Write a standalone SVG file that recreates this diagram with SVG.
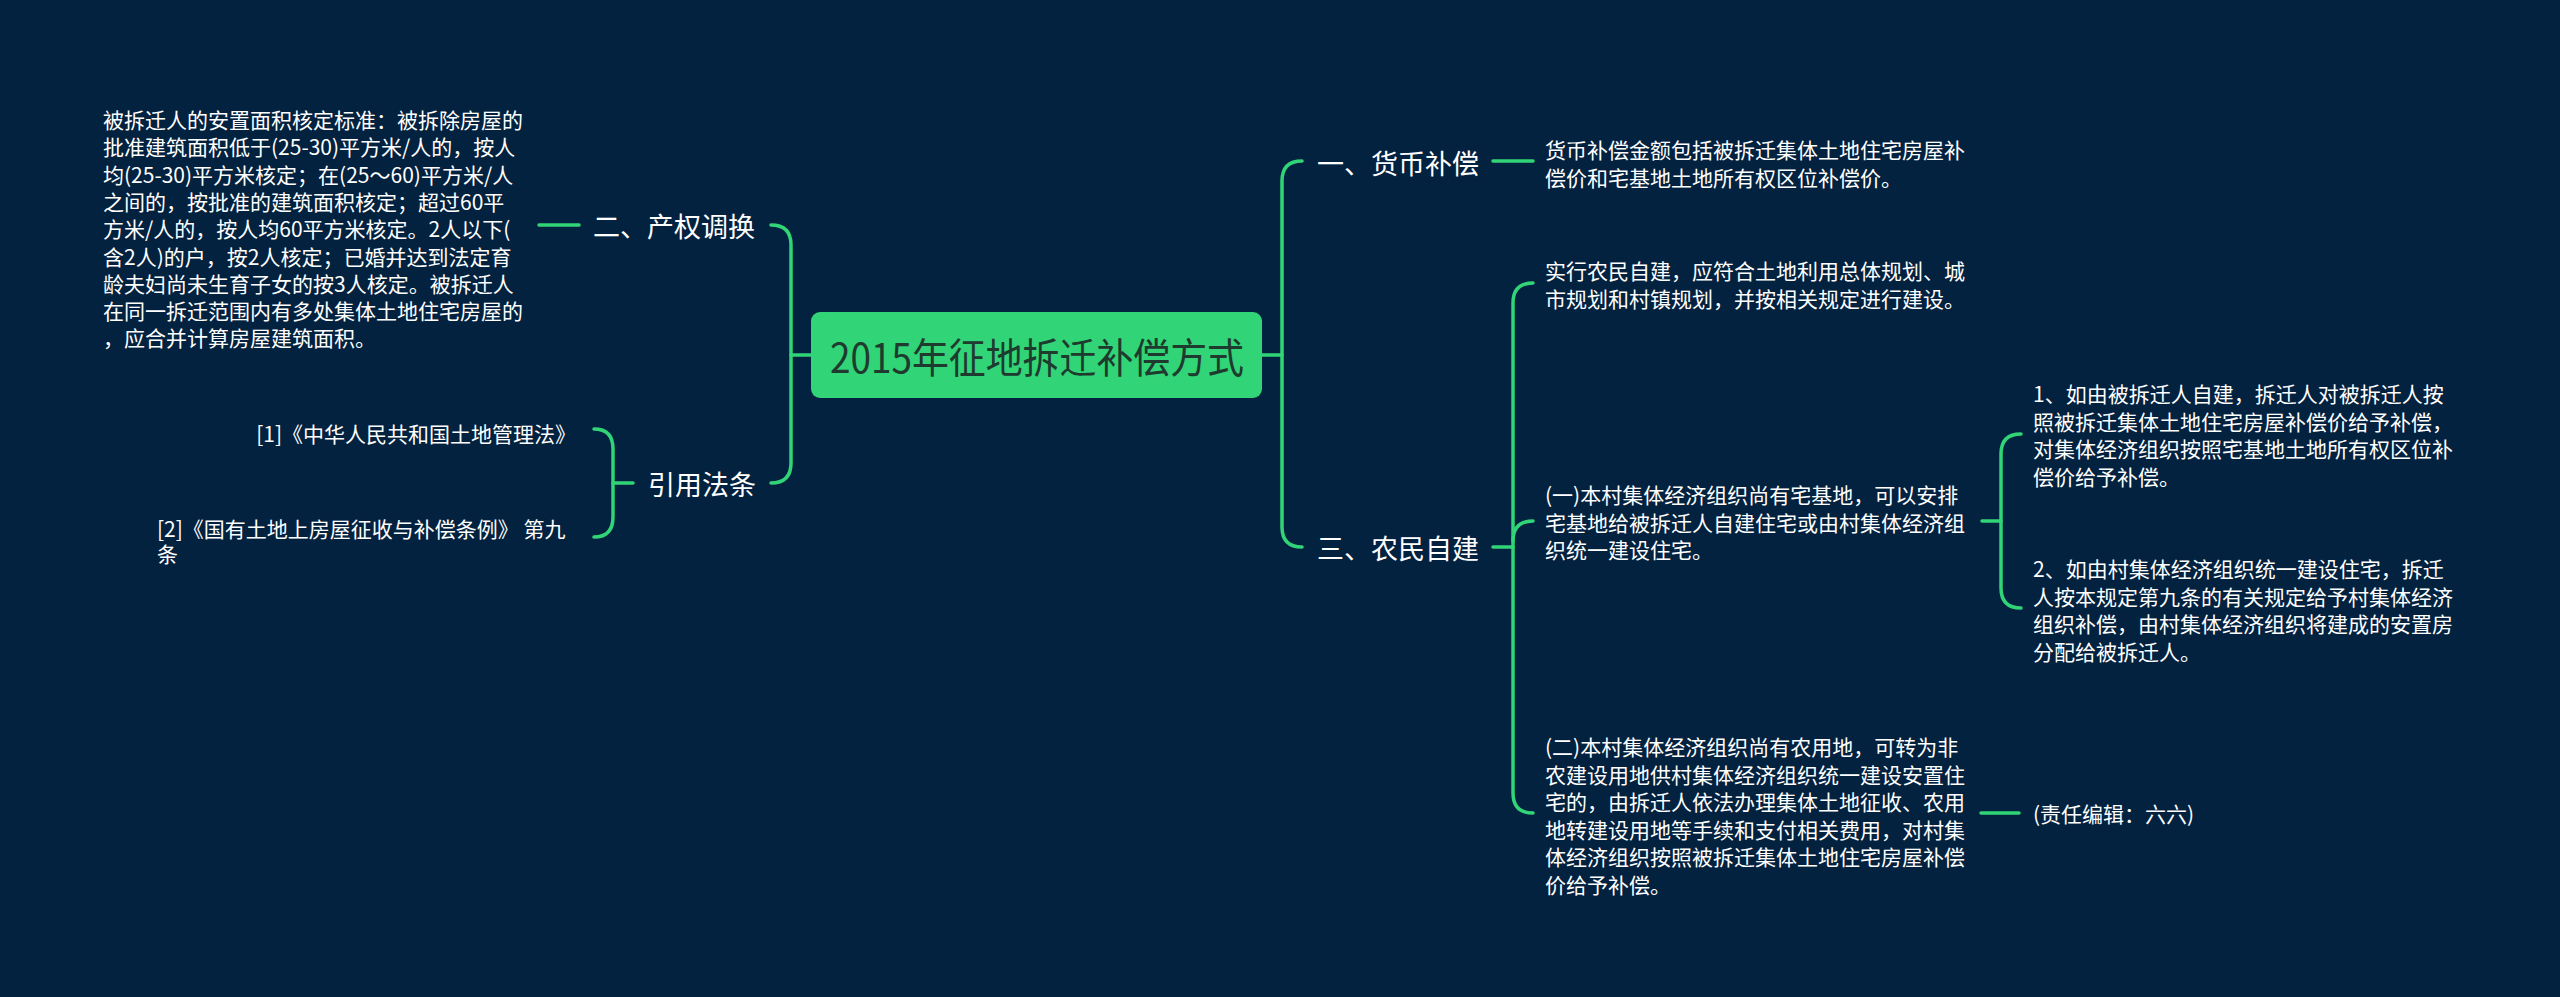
<svg xmlns="http://www.w3.org/2000/svg" width="2560" height="997" viewBox="0 0 2560 997">
<style>
.bg{fill:#03223f}
.ln{fill:none;stroke:#31d476;stroke-width:3.5;stroke-linecap:round}
.t{font-family:"Noto Sans CJK SC","Noto Sans",sans-serif;fill:#ffffff;dominant-baseline:central}
.s{font-size:21px}
.b{font-size:27px}
.title{font-family:"Noto Sans CJK SC","Noto Sans",sans-serif;font-size:41px;fill:#1f3a2e;dominant-baseline:central}
</style>
<rect class="bg" x="0" y="0" width="2560" height="997"/>
<g id="connectors">
  <path class="ln" d="M811,355 L791,355"/>
  <path class="ln" d="M771,225 Q791,225 791,245 L791,463 Q791,483 771,483"/>
  <path class="ln" d="M579,225 L539,225"/>
  <path class="ln" d="M633,483 L613,483"/>
  <path class="ln" d="M594,429 Q613,429 613,449 L613,517 Q613,537 594,537"/>
  <path class="ln" d="M1262,355 L1282,355"/>
  <path class="ln" d="M1302,161 Q1282,161 1282,181 L1282,527 Q1282,547 1302,547"/>
  <path class="ln" d="M1493,161 L1533,161"/>
  <path class="ln" d="M1493,547 L1513,547"/>
  <path class="ln" d="M1533,283 Q1513,283 1513,303 L1513,793 Q1513,813 1533,813"/>
  <path class="ln" d="M1513,541 Q1513,521 1533,521"/>
  <path class="ln" d="M1982,521 L2001,521"/>
  <path class="ln" d="M2021,434 Q2001,434 2001,454 L2001,588 Q2001,608 2021,608"/>
  <path class="ln" d="M1981,813 L2019,813"/>
</g>
<g id="root">
  <rect x="811" y="312" width="451" height="86" rx="9" fill="#31d476"/>
  <text class="title" x="830" y="355" textLength="414" lengthAdjust="spacingAndGlyphs">2015年征地拆迁补偿方式</text>
</g>
<g id="n-chanquan">
  <text class="t b" x="593" y="225">二、产权调换</text>
</g>
<g id="n-chanquan-detail">
  <text class="t s" x="103">
    <tspan x="103" y="119">被拆迁人的安置面积核定标准：被拆除房屋的</tspan>
    <tspan x="103" y="146.3">批准建筑面积低于(25-30)平方米/人的，按人</tspan>
    <tspan x="103" y="173.6">均(25-30)平方米核定；在(25～60)平方米/人</tspan>
    <tspan x="103" y="200.9">之间的，按批准的建筑面积核定；超过60平</tspan>
    <tspan x="103" y="228.2">方米/人的，按人均60平方米核定。2人以下(</tspan>
    <tspan x="103" y="255.5">含2人)的户，按2人核定；已婚并达到法定育</tspan>
    <tspan x="103" y="282.8">龄夫妇尚未生育子女的按3人核定。被拆迁人</tspan>
    <tspan x="103" y="310.1">在同一拆迁范围内有多处集体土地住宅房屋的</tspan>
    <tspan x="103" y="337.4">，应合并计算房屋建筑面积。</tspan>
  </text>
</g>
<g id="n-yinyong">
  <text class="t b" x="648" y="483">引用法条</text>
</g>
<g id="n-law1">
  <text class="t s" x="576" y="433" text-anchor="end">[1]《中华人民共和国土地管理法》</text>
</g>
<g id="n-law2">
  <text class="t s">
    <tspan x="157" y="528">[2]《国有土地上房屋征收与补偿条例》 第九</tspan>
    <tspan x="157" y="553">条</tspan>
  </text>
</g>
<g id="n-huobi">
  <text class="t b" x="1317" y="162">一、货币补偿</text>
</g>
<g id="n-huobi-detail">
  <text class="t s">
    <tspan x="1545" y="149">货币补偿金额包括被拆迁集体土地住宅房屋补</tspan>
    <tspan x="1545" y="176.5">偿价和宅基地土地所有权区位补偿价。</tspan>
  </text>
</g>
<g id="n-nongmin">
  <text class="t b" x="1317" y="547">三、农民自建</text>
</g>
<g id="n-shixing">
  <text class="t s">
    <tspan x="1545" y="270">实行农民自建，应符合土地利用总体规划、城</tspan>
    <tspan x="1545" y="297.5">市规划和村镇规划，并按相关规定进行建设。</tspan>
  </text>
</g>
<g id="n-yi">
  <text class="t s">
    <tspan x="1545" y="494">(一)本村集体经济组织尚有宅基地，可以安排</tspan>
    <tspan x="1545" y="521.5">宅基地给被拆迁人自建住宅或由村集体经济组</tspan>
    <tspan x="1545" y="549">织统一建设住宅。</tspan>
  </text>
</g>
<g id="n-yi-1">
  <text class="t s">
    <tspan x="2033" y="393">1、如由被拆迁人自建，拆迁人对被拆迁人按</tspan>
    <tspan x="2033" y="420.5">照被拆迁集体土地住宅房屋补偿价给予补偿，</tspan>
    <tspan x="2033" y="448">对集体经济组织按照宅基地土地所有权区位补</tspan>
    <tspan x="2033" y="475.5">偿价给予补偿。</tspan>
  </text>
</g>
<g id="n-yi-2">
  <text class="t s">
    <tspan x="2033" y="568">2、如由村集体经济组织统一建设住宅，拆迁</tspan>
    <tspan x="2033" y="595.5">人按本规定第九条的有关规定给予村集体经济</tspan>
    <tspan x="2033" y="623">组织补偿，由村集体经济组织将建成的安置房</tspan>
    <tspan x="2033" y="650.5">分配给被拆迁人。</tspan>
  </text>
</g>
<g id="n-er">
  <text class="t s">
    <tspan x="1545" y="746">(二)本村集体经济组织尚有农用地，可转为非</tspan>
    <tspan x="1545" y="773.5">农建设用地供村集体经济组织统一建设安置住</tspan>
    <tspan x="1545" y="801">宅的，由拆迁人依法办理集体土地征收、农用</tspan>
    <tspan x="1545" y="828.5">地转建设用地等手续和支付相关费用，对村集</tspan>
    <tspan x="1545" y="856">体经济组织按照被拆迁集体土地住宅房屋补偿</tspan>
    <tspan x="1545" y="883.5">价给予补偿。</tspan>
  </text>
</g>
<g id="n-editor">
  <text class="t s" x="2033" y="813">(责任编辑：六六)</text>
</g>
</svg>
